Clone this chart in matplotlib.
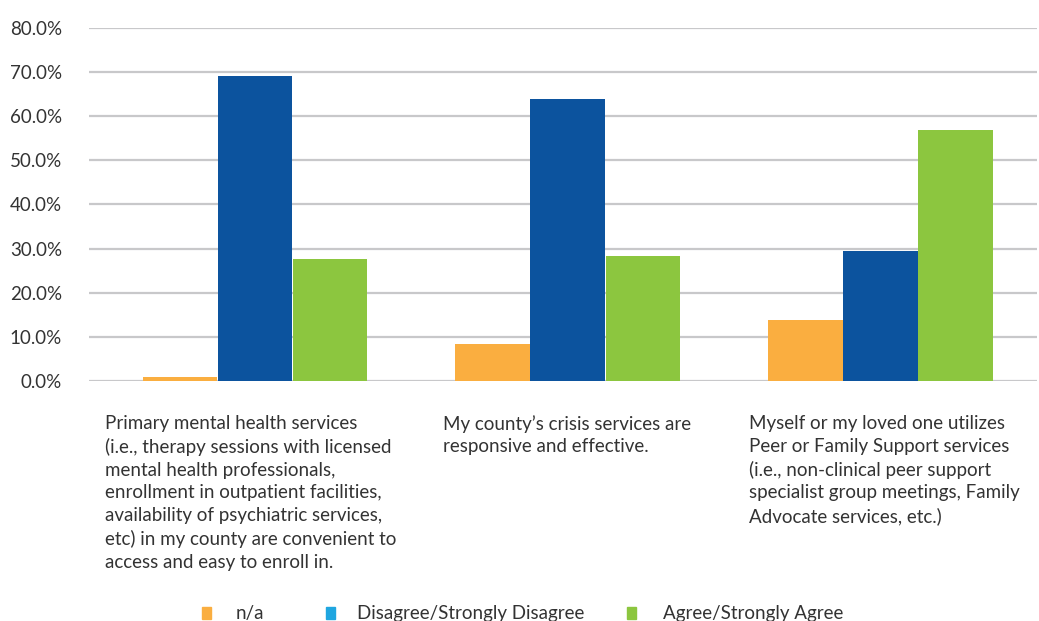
import matplotlib
matplotlib.use("Agg")
import matplotlib.pyplot as plt
from matplotlib.patches import Rectangle
import numpy as np

plt.rcParams['font.family'] = ['Lato', 'DejaVu Sans']

categories = [
    "Primary mental health services\n(i.e., therapy sessions with licensed\nmental health professionals,\nenrollment in outpatient facilities,\navailability of psychiatric services,\netc) in my county are convenient to\naccess and easy to enroll in.",
    "My county\u2019s crisis services are\nresponsive and effective.",
    "Myself or my loved one utilizes\nPeer or Family Support services\n(i.e., non-clinical peer support\nspecialist group meetings, Family\nAdvocate services, etc.)",
]
series_names = ["n/a", "Disagree/Strongly Disagree", "Agree/Strongly Agree"]
na_values = [1.0, 8.4, 13.8]
disagree_values = [69.2, 63.9, 29.5]
agree_values = [27.7, 28.3, 56.9]
y_ticks = [0, 10, 20, 30, 40, 50, 60, 70, 80]

bar_colors = ["#FAAE40", "#0C539E", "#8CC63F"]
legend_colors = ["#FAAE40", "#1FA6E0", "#8CC63F"]
text_color = "#333333"
grid_color = "#C8C8CA"

W, H = 1039, 621
fig = plt.figure(figsize=(W / 100, H / 100), dpi=100)
ax = fig.add_axes([89 / W, 1 - 381 / H, (1037 - 89) / W, (381 - 28) / H])

x = np.arange(len(categories))
bw = 0.238
step = 0.240
for i, vals in enumerate([na_values, disagree_values, agree_values]):
    ax.bar(x + (i - 1) * step, vals, width=bw, color=bar_colors[i], zorder=3,
           linewidth=0)

ax.set_ylim(0, 80)
ax.set_xlim(-0.53, 2.50)
ax.set_yticks(y_ticks)
ax.set_yticklabels([f"{v:.1f}%" for v in y_ticks], fontsize=13.5, color=text_color)
ax.tick_params(axis='y', length=0, pad=19.5)
ax.set_xticks([])
for s in ax.spines.values():
    s.set_visible(False)
ax.yaxis.grid(True, color=grid_color, linewidth=1.6, zorder=0)
ax.set_axisbelow(True)

# category labels, left-aligned under each group
label_left = [105, 443, 749]
for lx, text in zip(label_left, categories):
    fig.text(lx / W, 1 - 415 / H, text, ha='left', va='top', fontsize=13.5,
             color=text_color, linespacing=1.4)

# legend row along the bottom edge
square_left = [202, 326, 627]
text_left = [236, 357, 663]
for sx, tx, c, name in zip(square_left, text_left, legend_colors, series_names):
    fig.patches.append(Rectangle((sx / W, 1 - 619 / H), 9 / W, 12 / H,
                                 transform=fig.transFigure, color=c))
    fig.text(tx / W, 1 - 613 / H, name, ha='left', va='center', fontsize=13.5,
             color=text_color)

fig.savefig("out.png", dpi=100)
